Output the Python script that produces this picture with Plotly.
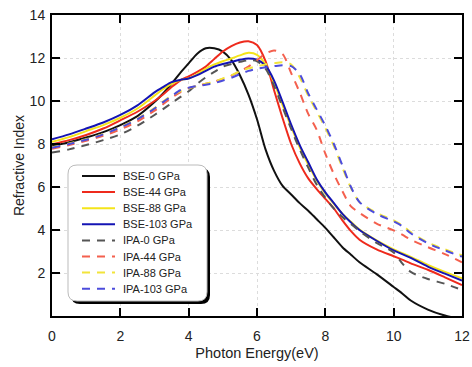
import plotly.graph_objects as go

# ---------------- data ----------------
energy = [0, 0.5, 1, 1.5, 2, 2.5, 3, 3.25, 3.5, 3.75, 4, 4.25, 4.5, 4.75, 5, 5.25, 5.5,
          5.75, 6, 6.25, 6.5, 6.75, 7, 7.25, 7.5, 7.75, 8, 8.25, 8.5, 8.75, 9, 9.5, 10,
          10.25, 10.5, 11, 11.5, 12]

bse_0 = [7.9, 8.08, 8.3, 8.55, 8.88, 9.3, 9.95, 10.35, 10.8, 11.3, 11.75, 12.2, 12.45, 12.45,
         12.3, 11.9, 11.2, 10.3, 9.15, 7.75, 6.75, 6.05, 5.65, 5.25, 4.9, 4.5, 4.1, 3.65,
         3.2, 2.85, 2.5, 1.95, 1.35, 1.05, 0.72, 0.3, 0.02, -0.15]
bse_44 = [7.99, 8.18, 8.42, 8.72, 9.1, 9.5, 10.0, 10.3, 10.65, 10.95, 11.15, 11.35, 11.6,
          11.95, 12.3, 12.55, 12.72, 12.78, 12.6, 11.85, 10.5, 9.2, 8.0, 7.1, 6.4, 5.9,
          5.45, 5.0, 4.45, 3.95, 3.55, 3.1, 2.78, 2.62, 2.45, 2.15, 1.8, 1.44]
bse_88 = [8.1, 8.32, 8.6, 8.88, 9.22, 9.65, 10.25, 10.55, 10.8, 10.98, 11.05, 11.25, 11.5,
          11.7, 11.85, 11.98, 12.12, 12.24, 12.15, 11.7, 10.85, 9.8, 8.8, 7.85, 7.05, 6.3,
          5.7, 5.22, 4.75, 4.38, 4.02, 3.52, 3.1, 2.92, 2.75, 2.38, 2.05, 1.75]
bse_103 = [8.22, 8.45, 8.72, 9.0, 9.35, 9.8, 10.4, 10.65, 10.88, 10.98, 11.05, 11.2, 11.4,
           11.6, 11.72, 11.82, 11.92, 11.98, 11.92, 11.65, 10.95, 9.95, 8.9, 7.95, 7.15,
           6.35, 5.75, 5.25, 4.75, 4.35, 4.0, 3.5, 3.05, 2.88, 2.7, 2.3, 1.97, 1.65]
ipa_0 = [7.6, 7.75, 7.95, 8.18, 8.45, 8.85, 9.35, 9.62, 9.9, 10.18, 10.45, 10.8, 11.1,
         11.35, 11.6, 11.72, 11.82, 11.9, 11.85, 11.5, 10.7, 9.7, 8.7, 7.75, 6.9, 6.1,
         5.5, 5.0, 4.6, 4.28, 3.95, 3.4, 2.95, 2.45, 2.05, 1.72, 1.5, 1.21]
ipa_44 = [7.78, 7.95, 8.15, 8.38, 8.68, 9.05, 9.55, 9.85, 10.15, 10.4, 10.6, 10.7, 10.8,
          10.9, 11.03, 11.18, 11.38, 11.6, 11.9, 12.2, 12.35, 12.18, 11.3, 10.4, 9.4,
          8.65, 7.55, 6.6, 5.8, 5.1, 4.8, 4.3, 3.98, 3.78, 3.55, 3.2, 2.88, 2.5]
ipa_88 = [7.85, 8.02, 8.22, 8.47, 8.78, 9.17, 9.67, 9.97, 10.25, 10.45, 10.6, 10.7, 10.8,
          10.9, 11.05, 11.2, 11.38, 11.52, 11.62, 11.7, 11.76, 11.8, 11.7, 11.1, 10.25,
          9.5, 8.75, 7.9, 6.9, 5.95, 5.3, 4.8, 4.45, 4.22, 3.9, 3.42, 3.1, 2.82]
ipa_103 = [7.82, 8.0, 8.2, 8.45, 8.77, 9.15, 9.65, 9.95, 10.22, 10.5, 10.62, 10.7, 10.76,
           10.83, 10.95, 11.08, 11.25, 11.4, 11.5, 11.57, 11.62, 11.66, 11.62, 11.25,
           10.35, 9.6, 8.85, 8.0, 7.0, 6.0, 5.3, 4.75, 4.4, 4.18, 3.85, 3.38, 3.05, 2.76]

series_names = ["BSE-0 GPa", "BSE-44 GPa", "BSE-88 GPa", "BSE-103 GPa",
                "IPA-0 GPa", "IPA-44 GPa", "IPA-88 GPa", "IPA-103 GPa"]
series_values = [bse_0, bse_44, bse_88, bse_103, ipa_0, ipa_44, ipa_88, ipa_103]
series_colors = ["#111111", "#ee2a1c", "#f4e41a", "#1414b4",
                 "#555555", "#f4604e", "#f2e43a", "#4c4cdc"]
series_dash = ["solid"] * 4 + ["8px,7px"] * 4

x_ticks = [0, 2, 4, 6, 8, 10, 12]
y_ticks = [2, 4, 6, 8, 10, 12, 14]

# ---------------- layout geometry (pixels) ----------------
W, H = 472, 367
ML, MR, MT, MB = 52, 10, 15, 51
PW, PH = W - ML - MR, H - MT - MB


def px(xp):
    return (xp - ML) / PW


def py(yp):
    return (H - MB - yp) / PH


fig = go.Figure()
for name, vals, col, dash in zip(series_names, series_values, series_colors, series_dash):
    fig.add_trace(go.Scatter(
        x=energy, y=vals, mode="lines", name=name, showlegend=False,
        line=dict(color=col, width=2, dash=dash, shape="spline", smoothing=0.8),
    ))

# ---------------- custom legend box (rounded, with shadow) ----------------
def rounded(x0, y0, x1, y1, r):
    rx, ry = r / PW, r / PH
    X0, X1 = px(x0), px(x1)
    Y0, Y1 = py(y0), py(y1)  # Y0 top (larger), Y1 bottom
    return (f"M {X0+rx},{Y0} L {X1-rx},{Y0} Q {X1},{Y0} {X1},{Y0-ry} "
            f"L {X1},{Y1+ry} Q {X1},{Y1} {X1-rx},{Y1} L {X0+rx},{Y1} "
            f"Q {X0},{Y1} {X0},{Y1+ry} L {X0},{Y0-ry} Q {X0},{Y0} {X0+rx},{Y0} Z")


shapes = [
    dict(type="path", xref="paper", yref="paper", layer="above",
         path=rounded(71, 168, 210, 304, 9), fillcolor="#000000",
         line=dict(color="#000000", width=0)),
    dict(type="path", xref="paper", yref="paper", layer="above",
         path=rounded(68, 165, 207, 301, 9), fillcolor="#ffffff",
         line=dict(color="#bbbbbb", width=1)),
]
annotations = []
for i, (name, col, dash) in enumerate(zip(series_names, series_colors, series_dash)):
    yc = 176 + 16.1 * i
    shapes.append(dict(type="line", xref="paper", yref="paper", layer="above",
                       x0=px(82), x1=px(115), y0=py(yc), y1=py(yc),
                       line=dict(color=col, width=2, dash=dash)))
    annotations.append(dict(text=name, xref="paper", yref="paper", x=px(121), y=py(yc),
                            xanchor="left", yanchor="middle", showarrow=False,
                            font=dict(size=11, color="#222222", family="Liberation Sans, Arial, sans-serif")))

axis_common = dict(
    showline=True, linecolor="#000000", linewidth=2, mirror="ticks",
    ticks="inside", ticklen=8, tickwidth=2, tickcolor="#000000",
    showgrid=True, gridcolor="#dcdcdc", gridwidth=1, griddash="3px,3px",
    zeroline=False, tickfont=dict(size=14, color="#222222"), automargin=False,
)

fig.update_layout(
    width=W, height=H,
    margin=dict(l=ML, r=MR, t=MT, b=MB),
    paper_bgcolor="#ffffff", plot_bgcolor="#ffffff",
    font=dict(family="Liberation Sans, Arial, sans-serif", color="#222222"),
    showlegend=False,
    shapes=shapes, annotations=annotations,
    xaxis=dict(range=[0, 12], tickvals=x_ticks, ticktext=[str(v) for v in x_ticks],
               title=dict(text="Photon Energy(eV)", font=dict(size=14.5), standoff=5),
               ticklabelstandoff=6, **axis_common),
    yaxis=dict(range=[0, 14], tickvals=y_ticks, ticktext=[str(v) for v in y_ticks],
               title=dict(text="Refractive Index", font=dict(size=14), standoff=2),
               ticklabelstandoff=2, **axis_common),
)

fig.write_html("out.html", config={"displayModeBar": False},
               post_script="document.body.style.margin='0px';document.body.style.overflow='hidden';")
